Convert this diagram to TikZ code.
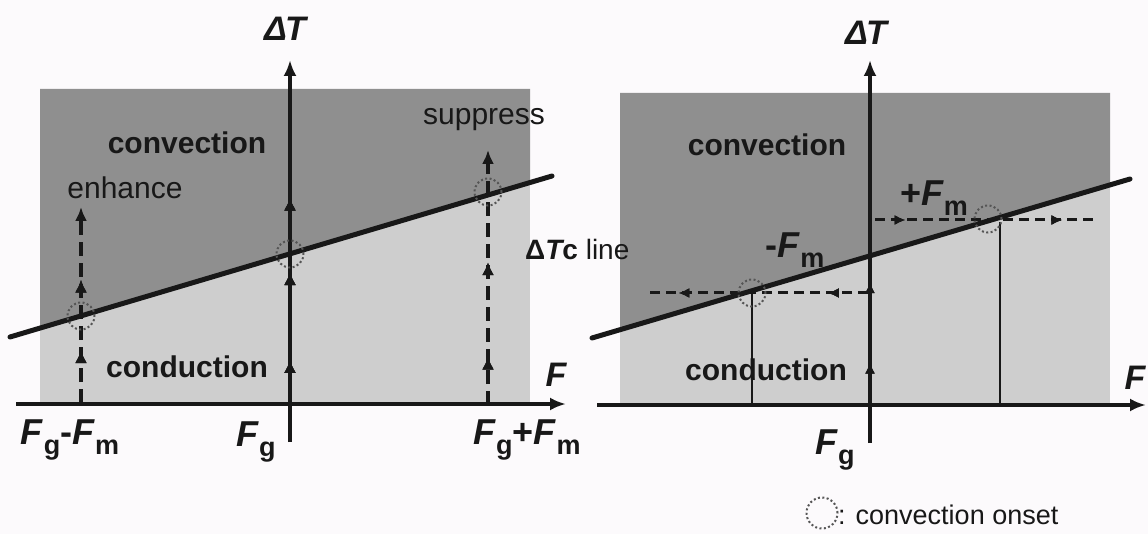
\documentclass[tikz,border=0pt]{standalone}
\usepackage{fontspec}
\setmainfont{Liberation Sans}
\usetikzlibrary{arrows.meta,decorations.markings}
\definecolor{bg}{RGB}{252,250,252}
\definecolor{darkreg}{RGB}{143,143,143}
\definecolor{lightreg}{RGB}{206,206,206}
\definecolor{ink}{RGB}{24,24,24}
\definecolor{ring}{RGB}{85,85,85}
\newcommand\Fsub[1]{\textit{F}\raisebox{-10pt}{\fontsize{27}{30}\selectfont #1}}
\begin{document}
\begin{tikzpicture}[x=1pt,y=-1pt,
  axisline/.style={line width=4pt, draw=ink, -{Latex[length=16pt,width=13pt]}},
  tcline/.style={line width=5pt, draw=ink, line cap=round},
  vdash/.style={line width=4pt, draw=ink, dash pattern=on 14pt off 7pt},
  hdash/.style={line width=3pt, draw=ink, dash pattern=on 10pt off 6pt},
  thinline/.style={line width=2pt, draw=ink},
  onset/.style={circle, draw=ring, line width=2pt, dash pattern=on 2pt off 2.4pt, minimum size=27pt, inner sep=0pt},
  midup/.style={postaction={decorate}, decoration={markings, mark=at position #1 with {\arrow{Latex[length=13pt,width=12pt]}}}},
  midsm/.style={postaction={decorate}, decoration={markings, mark=at position #1 with {\arrow{Latex[length=11pt,width=10pt]}}}},
  lab/.style={font=\bfseries\fontsize{30}{36}\selectfont, text=ink, inner sep=0pt},
  labn/.style={font=\fontsize{30}{36}\selectfont, text=ink, inner sep=0pt},
  axlab/.style={font=\bfseries\itshape\fontsize{34}{40}\selectfont, text=ink, inner sep=0pt},
  flab/.style={font=\bfseries\fontsize{36}{42}\selectfont, text=ink, inner sep=0pt}
]
\fill[bg] (0,0) rectangle (1148,534);
\useasboundingbox (0,0) rectangle (1148,534);

% ---------- region fills ----------
\fill[lightreg] (40,89) rectangle (530,404);
\fill[darkreg] (40,89) -- (530,89) -- (530,182.6) -- (40,328.1) -- cycle;
\fill[lightreg] (620,93) rectangle (1110,404);
\fill[darkreg] (620,93) -- (1110,93) -- (1110,184.9) -- (620,329.7) -- cycle;

% ---------- left panel ----------
\coordinate (L1a) at (10,337);
\coordinate (L1b) at (552,176);
\draw[tcline] (L1a) -- (L1b);

\coordinate (eB) at (81,403);
\coordinate (eT) at (81,207);
\draw[vdash, -{Latex[length=14pt,width=12pt]}, midup=0.27, midup=0.63] (eB) -- (eT);
\coordinate (sB) at (488,405);
\coordinate (sT) at (488,150);
\draw[vdash, -{Latex[length=14pt,width=12pt]}, midup=0.19, midup=0.56] (sB) -- (sT);

\coordinate (LxA) at (16,404);
\coordinate (LxB) at (566,404);
\draw[axisline] (LxA) -- (LxB);
\coordinate (LyA) at (290,442);
\coordinate (LyB) at (290,60);
\draw[axisline, midup=0.215, midup=0.445, midup=0.64] (LyA) -- (LyB);

\node[onset] (c1) at (81,316) {};
\node[onset] (c2) at (290,254) {};
\node[onset] (c3) at (488,192) {};

\node[axlab] (dT1) at (285,29) {\symbol{"0394}\kern-2pt T};
\node[lab] (conv1) at (187,143) {convection};
\node[lab] (cond1) at (187,367) {conduction};
\node[labn] (enh) at (125,188) {enhance};
\node[labn] (sup) at (484,120) {suppress};
\node[flab, font=\bfseries\itshape\fontsize{34}{40}\selectfont] (F1) at (556,375) {F};
\node[flab] (fgm) at (70,440) {\Fsub{g}-\Fsub{m}};
\node[flab] (fg1) at (256,442) {\Fsub{g}};
\node[flab] (fgp) at (527,440) {\Fsub{g}+\Fsub{m}};

% ---------- right panel ----------
\coordinate (L2a) at (592,338);
\coordinate (L2b) at (1130,179);
\draw[tcline] (L2a) -- (L2b);

\coordinate (uA) at (875,220);
\coordinate (uB) at (1093,220);
\draw[hdash, midsm=0.14, midsm=0.86] (uA) -- (uB);
\coordinate (dA) at (868,293);
\coordinate (dB) at (645,293);
\draw[hdash, midsm=0.18, midsm=0.85] (dA) -- (dB);

\coordinate (t1T) at (752,293);
\coordinate (t1B) at (752,404);
\draw[thinline] (t1T) -- (t1B);
\coordinate (t2T) at (1000,222);
\coordinate (t2B) at (1000,404);
\draw[thinline] (t2T) -- (t2B);

\coordinate (RxA) at (597,405);
\coordinate (RxB) at (1146,405);
\draw[axisline] (RxA) -- (RxB);
\coordinate (RyA) at (870,443);
\coordinate (RyB) at (870,60);
\draw[axisline, midsm=0.21, midsm=0.42] (RyA) -- (RyB);

\node[onset] (c4) at (752,293) {};
\node[onset] (c5) at (988,219) {};

\node[axlab] (dT2) at (866,33) {\symbol{"0394}\kern-2pt T};
\node[lab] (conv2) at (767,145) {convection};
\node[lab] (cond2) at (766,370) {conduction};
\node[flab] (mfm) at (795,250) {-\Fsub{m}};
\node[flab] (pfm) at (934,198) {+\Fsub{m}};
\node[flab, font=\bfseries\itshape\fontsize{34}{40}\selectfont] (F2) at (1135,378) {F};
\node[flab] (fg2) at (835,450) {\Fsub{g}};

% line label between panels
\node[inner sep=0pt, text=ink, anchor=west] (tcl) at (525,249) {\bfseries\fontsize{28}{34}\selectfont \symbol{"0394}\itshape T\upshape c\mdseries\ line};

% legend
\node[onset, minimum size=31pt] (leg) at (822,513) {};
\node[font=\fontsize{27}{32}\selectfont, text=ink, inner sep=0pt, anchor=west] (legt) at (838,515) {: convection onset};
\end{tikzpicture}
\end{document}
